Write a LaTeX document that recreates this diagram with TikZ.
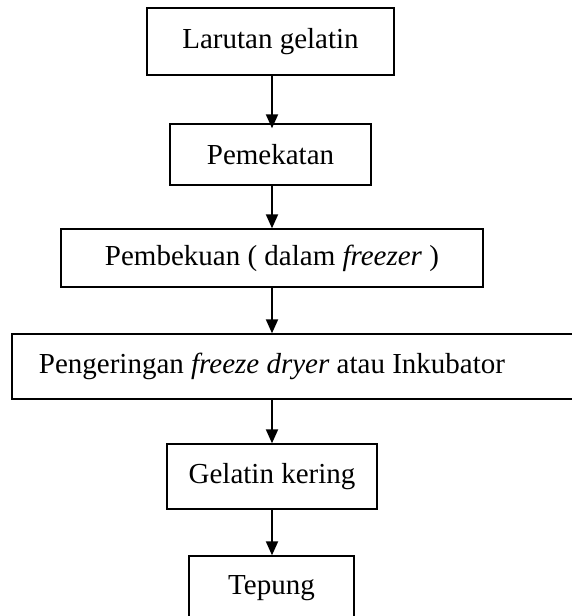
\documentclass[tikz,border=0pt]{standalone}
\usepackage{fontspec}
\setmainfont{Liberation Serif}
\usetikzlibrary{arrows.meta}
\tikzstyle{box} = [rectangle, draw, line width=1.4pt, font=\fontsize{29pt}{34pt}\selectfont, inner sep=0pt]
\tikzstyle{flow} = [line width=2pt, -{Triangle[length=14pt,width=12pt]}]

\begin{document}
\begin{tikzpicture}[x=1pt,y=-1pt]
			\useasboundingbox (0,0) rectangle (572,616);
			\clip (0,0) rectangle (572,616);
			\node[box, minimum width=247pt, minimum height=67pt] (larutan) at (270.5,41.5) {Larutan gelatin};
			\node[box, minimum width=201pt, minimum height=61pt] (pekat) at (270.5,154.5) {Pemekatan};
			\node[box, minimum width=422pt, minimum height=58pt] (beku) at (272,258) {Pembekuan ( dalam \textit{freezer} )};
			\node[box, draw=none, minimum height=65pt] (kering) at (272,366.5) {Pengeringan \textit{freeze dryer} atau Inkubator};
			\draw[line width=1.4pt] (12,334) rectangle (600,399);
			\node[box, minimum width=210pt, minimum height=65pt] (gelatin) at (272,476.5) {Gelatin kering};
			\node[box, minimum width=165pt, minimum height=65pt] (tepung) at (271.5,588.5) {Tepung};
			\draw[flow] (larutan.south -| 272,0) -- ([yshift=-5pt]pekat.north -| 272,0);
			\draw[flow] (pekat.south -| 272,0) -- (beku.north);
			\draw[flow] (beku.south) -- (kering.north);
			\draw[flow] (kering.south) -- (gelatin.north);
			\draw[flow] (gelatin.south) -- (tepung.north -| 272,0);
		\end{tikzpicture}
\end{document}
